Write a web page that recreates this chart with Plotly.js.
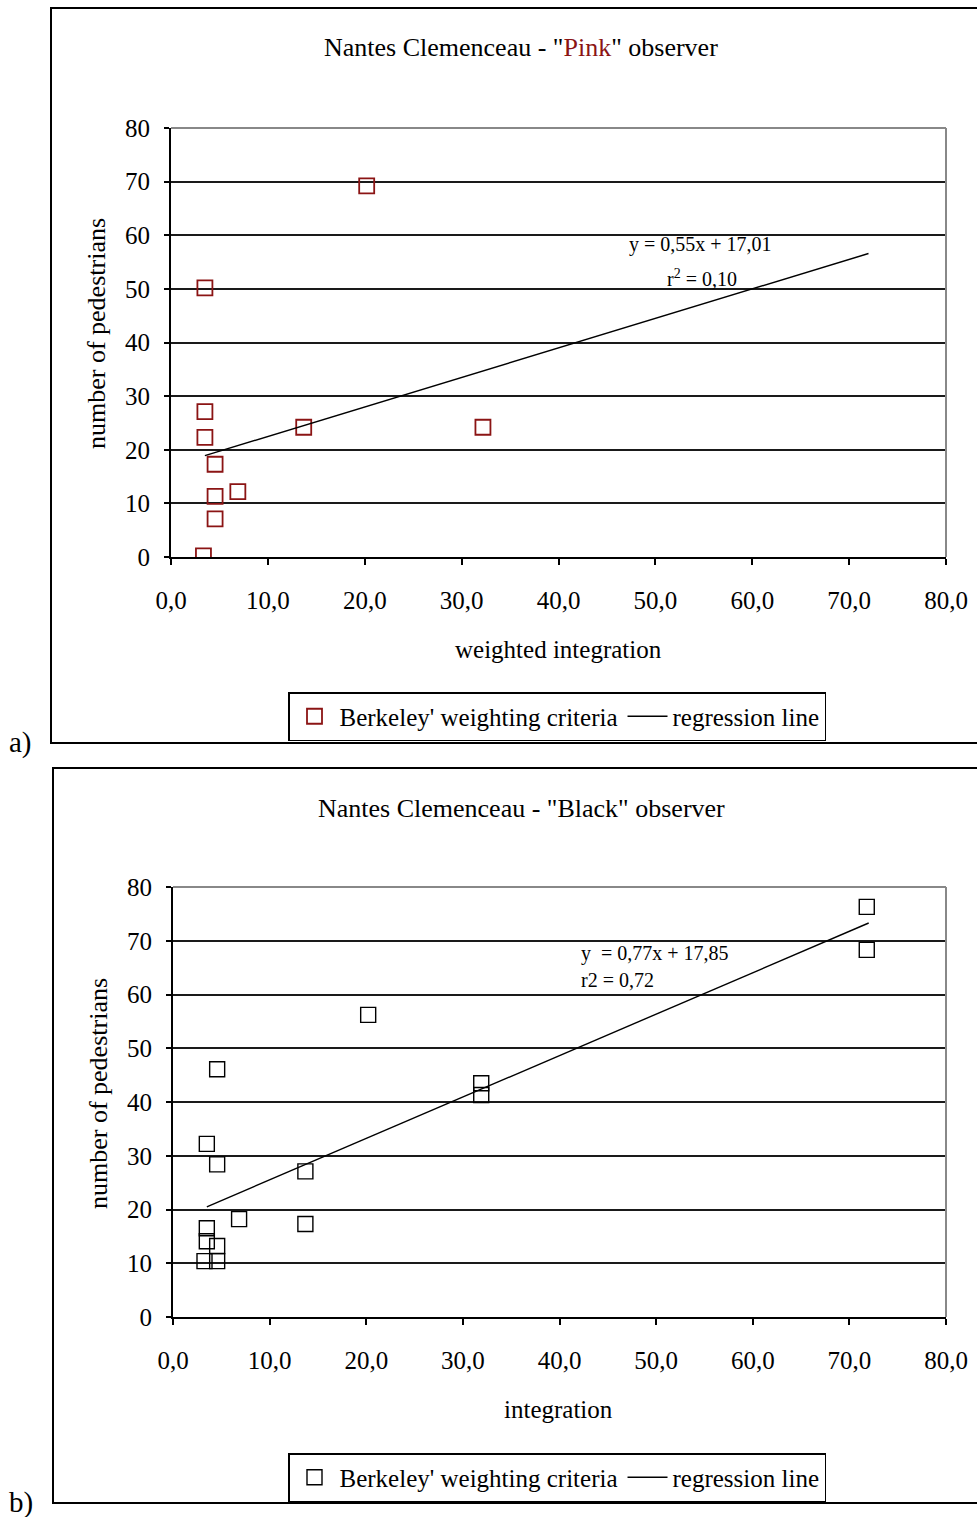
<!DOCTYPE html>
<html><head><meta charset="utf-8">
<script src="https://cdn.plot.ly/plotly-3.0.1.min.js"></script>
<style>html,body{margin:0;padding:0;background:#fff;}#chart{width:977px;height:1517px;}</style>
</head><body><div id="chart"></div>
<script>
// Panel a) "Pink" observer
const pinkX = [20.2, 3.5, 3.5, 3.5, 13.7, 32.2, 4.55, 6.9, 4.55, 4.55, 3.35];
const pinkY = [69.2, 50.2, 27.1, 22.3, 24.2, 24.2, 17.3, 12.2, 11.3, 7.1, 0.2];
const pinkLineX = [3.5, 72];
const pinkLineY = [18.9, 56.6];
// Panel b) "Black" observer
const blackX = [71.8, 71.8, 20.2, 4.57, 3.5, 4.57, 13.7, 13.7, 6.84, 3.5, 3.5, 4.57, 3.26, 4.57, 31.9, 31.9];
const blackY = [76.3, 68.3, 56.2, 46.1, 32.2, 28.4, 27.1, 17.3, 18.2, 16.5, 14.1, 13.2, 10.4, 10.4, 43.5, 41.3];
const blackLineX = [3.5, 72];
const blackLineY = [20.5, 73.3];
const xTicks = [0, 10, 20, 30, 40, 50, 60, 70, 80];
const yTicks = [0, 10, 20, 30, 40, 50, 60, 70, 80];
const seriesName = "Berkeley' weighting criteria";
const lineName = "regression line";

const W = 977, H = 1517;
const px = v => v / W;
const py = v => 1 - v / H;
const FONT = "Liberation Serif, Times New Roman, serif";
const PINK = "#8b1414";
const FS = 25;

const traces = [
  {x: pinkX, y: pinkY, xaxis: 'x', yaxis: 'y', type: 'scatter', mode: 'markers', name: seriesName,
   marker: {symbol: 'square-open', size: 15, color: PINK, line: {width: 1.8, color: PINK}}, legend: 'legend'},
  {x: pinkLineX, y: pinkLineY, xaxis: 'x', yaxis: 'y', type: 'scatter', mode: 'lines', name: lineName,
   line: {color: '#000', width: 1.4}, legend: 'legend'},
  {x: blackX, y: blackY, xaxis: 'x2', yaxis: 'y2', type: 'scatter', mode: 'markers', name: seriesName,
   marker: {symbol: 'square-open', size: 15, color: '#000', line: {width: 1.4, color: '#000'}}, legend: 'legend2'},
  {x: blackLineX, y: blackLineY, xaxis: 'x2', yaxis: 'y2', type: 'scatter', mode: 'lines', name: lineName,
   line: {color: '#000', width: 1.4}, legend: 'legend2'}
];

function xax(d0, d1, anchor) {
  return {domain: [px(d0), px(d1)], anchor: anchor, range: [0, 80], tickvals: xTicks,
    tickformat: '.1f', showgrid: false, zeroline: false, showline: true, linecolor: '#000', linewidth: 2,
    ticks: 'outside', ticklen: 6, tickwidth: 2, tickcolor: '#000', ticklabelstandoff: 14,
    tickfont: {family: FONT, size: FS, color: '#000'}, fixedrange: true};
}
function yax(t, b, anchor) {
  return {domain: [py(b), py(t)], anchor: anchor, range: [0, 80], tickvals: yTicks,
    showgrid: true, gridcolor: '#1a1a1a', gridwidth: 2, zeroline: false, showline: true, linecolor: '#000', linewidth: 2,
    ticks: 'outside', ticklen: 5, tickwidth: 2, tickcolor: '#000', ticklabelstandoff: 9,
    tickfont: {family: FONT, size: FS, color: '#000'}, fixedrange: true};
}

const legendCommon = {orientation: 'h', xanchor: 'center', yanchor: 'top', bgcolor: '#fff',
  bordercolor: '#000', borderwidth: 1.5, font: {family: FONT, size: FS, color: '#000'}, itemwidth: 40};

const layout = {
  width: W, height: H, margin: {l: 0, r: 0, t: 0, b: 0}, paper_bgcolor: '#fff', plot_bgcolor: '#fff',
  separators: ',.',
  font: {family: FONT, color: '#000'}, showlegend: true,
  xaxis: xax(171, 946, 'y'), yaxis: yax(128, 557, 'x'),
  xaxis2: xax(173, 946, 'y2'), yaxis2: yax(887, 1317, 'x2'),
  legend: Object.assign({}, legendCommon, {x: px(557), y: py(692)}),
  legend2: Object.assign({}, legendCommon, {x: px(557), y: py(1453)}),
  shapes: [
    // panel frames
    {type: 'rect', xref: 'paper', yref: 'paper', x0: px(51), x1: 1.05, y0: py(743), y1: py(8), line: {color: '#000', width: 2}},
    {type: 'rect', xref: 'paper', yref: 'paper', x0: px(53), x1: 1.05, y0: py(1503), y1: py(768), line: {color: '#000', width: 2}},
    // grey plot-area top/right borders
    {type: 'line', xref: 'x domain', yref: 'y domain', x0: 0, x1: 1, y0: 1, y1: 1, line: {color: '#888', width: 2}, layer: 'above'},
    {type: 'line', xref: 'x domain', yref: 'y domain', x0: 1, x1: 1, y0: 0, y1: 1, line: {color: '#888', width: 2}, layer: 'above'},
    {type: 'line', xref: 'x2 domain', yref: 'y2 domain', x0: 0, x1: 1, y0: 1, y1: 1, line: {color: '#888', width: 2}, layer: 'above'},
    {type: 'line', xref: 'x2 domain', yref: 'y2 domain', x0: 1, x1: 1, y0: 0, y1: 1, line: {color: '#888', width: 2}, layer: 'above'}
  ],
  annotations: [
    {xref: 'paper', yref: 'paper', x: px(521), y: py(48), text: 'Nantes Clemenceau - "<span style="color:' + PINK + '">Pink</span>" observer',
     showarrow: false, font: {family: FONT, size: 26, color: '#000'}, xanchor: 'center', yanchor: 'middle'},
    {xref: 'paper', yref: 'paper', x: px(521), y: py(808), text: 'Nantes Clemenceau - "Black" observer',
     showarrow: false, font: {family: FONT, size: 26, color: '#000'}, xanchor: 'center', yanchor: 'middle'},
    {xref: 'paper', yref: 'paper', x: px(558), y: py(649), text: 'weighted integration',
     showarrow: false, font: {family: FONT, size: FS, color: '#000'}, xanchor: 'center', yanchor: 'middle'},
    {xref: 'paper', yref: 'paper', x: px(558), y: py(1409), text: 'integration',
     showarrow: false, font: {family: FONT, size: FS, color: '#000'}, xanchor: 'center', yanchor: 'middle'},
    {xref: 'paper', yref: 'paper', x: px(96), y: py(334), text: 'number of pedestrians', textangle: -90,
     showarrow: false, font: {family: FONT, size: 26, color: '#000'}, xanchor: 'center', yanchor: 'middle'},
    {xref: 'paper', yref: 'paper', x: px(98), y: py(1094), text: 'number of pedestrians', textangle: -90,
     showarrow: false, font: {family: FONT, size: 26, color: '#000'}, xanchor: 'center', yanchor: 'middle'},
    {xref: 'paper', yref: 'paper', x: px(700), y: py(244), text: 'y = 0,55x + 17,01',
     showarrow: false, font: {family: FONT, size: 20, color: '#000'}, xanchor: 'center', yanchor: 'middle'},
    {xref: 'paper', yref: 'paper', x: px(702), y: py(278), text: 'r<sup>2</sup> = 0,10',
     showarrow: false, font: {family: FONT, size: 20, color: '#000'}, xanchor: 'center', yanchor: 'middle'},
    {xref: 'paper', yref: 'paper', x: px(579), y: py(953), text: 'y  = 0,77x + 17,85',
     showarrow: false, font: {family: FONT, size: 20, color: '#000'}, xanchor: 'left', yanchor: 'middle'},
    {xref: 'paper', yref: 'paper', x: px(579), y: py(980), text: 'r2 = 0,72',
     showarrow: false, font: {family: FONT, size: 20, color: '#000'}, xanchor: 'left', yanchor: 'middle'},
    {xref: 'paper', yref: 'paper', x: px(7), y: py(742), text: 'a)',
     showarrow: false, font: {family: FONT, size: 29, color: '#000'}, xanchor: 'left', yanchor: 'middle'},
    {xref: 'paper', yref: 'paper', x: px(7), y: py(1502), text: 'b)',
     showarrow: false, font: {family: FONT, size: 29, color: '#000'}, xanchor: 'left', yanchor: 'middle'}
  ]
};

Plotly.newPlot('chart', traces, layout, {displayModeBar: false, staticPlot: true});
</script></body></html>
